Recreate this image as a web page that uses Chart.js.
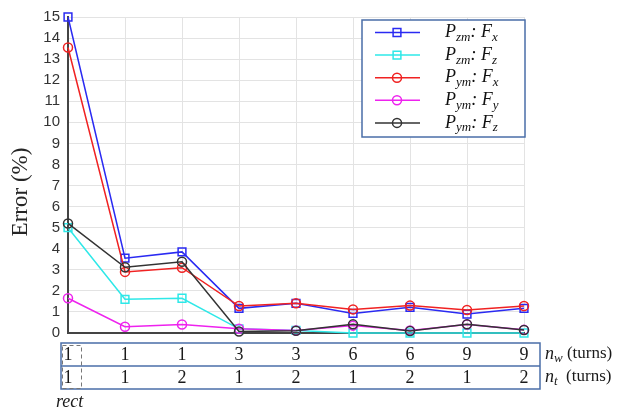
<!DOCTYPE html>
<html>
<head>
<meta charset="utf-8">
<script src="https://cdn.jsdelivr.net/npm/chart.js@4.4.1/dist/chart.umd.min.js"></script>
<style>
  html, body { margin: 0; padding: 0; background: #fff; }
  #wrap { position: relative; width: 627px; height: 411px; }
</style>
</head>
<body>
<div id="wrap"><canvas id="c"></canvas></div>
<script>
// Configurations along the x axis (winding turns n_w, turns per layer n_t)
const nwTurns = ['1', '1', '1', '3', '3', '6', '6', '9', '9'];
const ntTurns = ['1', '1', '2', '1', '2', '1', '2', '1', '2'];

// Error (%) for each force component / model
const pzmFx = [15.0, 3.55, 3.85, 1.17, 1.41, 0.93, 1.22, 0.90, 1.17];
const pzmFz = [5.0, 1.60, 1.65, 0.20, 0.12, 0.0, 0.0, 0.0, 0.0];
const pymFx = [13.55, 2.90, 3.10, 1.28, 1.41, 1.12, 1.30, 1.09, 1.28];
const pymFy = [1.65, 0.30, 0.40, 0.20, 0.12, 0.35, 0.12, 0.40, 0.15];
const pymFz = [5.2, 3.12, 3.38, 0.07, 0.11, 0.41, 0.09, 0.41, 0.14];

const seriesLabels = ['P_zm: F_x', 'P_zm: F_z', 'P_ym: F_x', 'P_ym: F_y', 'P_ym: F_z'];
const yTicks = [0, 1, 2, 3, 4, 5, 6, 7, 8, 9, 10, 11, 12, 13, 14, 15];

const BLUE = '#2a2af2', CYAN = '#2ee8e8', RED = '#f02222', MAG = '#ee22ee', DARK = '#333333';
const FRAME = '#4a6ea8';

function series(label, data, color, shape, radius, order) {
  return {
    label, data, order,
    borderColor: color, backgroundColor: 'rgba(0,0,0,0)',
    pointBorderColor: color, pointBackgroundColor: 'rgba(0,0,0,0)',
    pointStyle: shape, pointRadius: radius, pointHoverRadius: radius,
    pointBorderWidth: 1.5, borderWidth: 1.5, tension: 0, clip: false
  };
}

// draws "X_sub" style runs: italic base letters with subscripts
function drawRich(ctx, text, x, y, size) {
  const parts = text.split(/(_[a-z]+)/);
  let cx = x;
  ctx.textBaseline = 'middle';
  ctx.textAlign = 'left';
  for (const p of parts) {
    if (!p) continue;
    if (p[0] === '_') {
      ctx.font = 'italic ' + Math.round(size * 0.72) + 'px "Liberation Serif", serif';
      ctx.fillText(p.slice(1), cx, y + size * 0.28);
      cx += ctx.measureText(p.slice(1)).width;
    } else {
      ctx.font = 'italic ' + size + 'px "Liberation Serif", serif';
      ctx.fillText(p, cx, y);
      cx += ctx.measureText(p).width;
    }
  }
  return cx;
}

const legendPlugin = {
  id: 'boxLegend',
  afterDatasetsDraw(chart) {
    const ctx = chart.ctx;
    const x0 = 362, y0 = 20, w = 163, h = 117;
    ctx.save();
    ctx.fillStyle = '#fff';
    ctx.fillRect(x0, y0, w, h);
    ctx.strokeStyle = FRAME; ctx.lineWidth = 1.5;
    ctx.strokeRect(x0, y0, w, h);
    chart.data.datasets.forEach((ds, i) => {
      const y = 32.5 + i * 22.6;
      ctx.strokeStyle = ds.borderColor; ctx.lineWidth = 1.5;
      ctx.beginPath(); ctx.moveTo(375, y); ctx.lineTo(420, y); ctx.stroke();
      ctx.fillStyle = 'rgba(0,0,0,0)';
      Chart.helpers.drawPoint(ctx, { pointStyle: ds.pointStyle, radius: ds.pointRadius, borderWidth: 1.5, rotation: 0 }, 397, y);
      ctx.fillStyle = '#111';
      drawRich(ctx, ds.label, 445, y, 18);
    });
    ctx.restore();
  }
};

const tablePlugin = {
  id: 'turnTable',
  afterDraw(chart) {
    const ctx = chart.ctx;
    const xs = chart.scales.x;
    ctx.save();
    // frame of the two-row table
    ctx.strokeStyle = FRAME; ctx.lineWidth = 1.5;
    ctx.strokeRect(61, 343, 479, 46);
    ctx.beginPath(); ctx.moveTo(61, 366); ctx.lineTo(540, 366); ctx.stroke();
    // dashed marker around the rectangular reference column
    ctx.strokeStyle = '#777'; ctx.lineWidth = 1; ctx.setLineDash([4, 3]);
    ctx.strokeRect(62.5, 345.5, 19, 43);
    ctx.setLineDash([]);
    ctx.fillStyle = '#1a1a1a';
    ctx.font = '18px "Liberation Serif", serif';
    ctx.textAlign = 'center'; ctx.textBaseline = 'middle';
    nwTurns.forEach((v, i) => ctx.fillText(v, xs.getPixelForValue(i), 355));
    ntTurns.forEach((v, i) => ctx.fillText(v, xs.getPixelForValue(i), 378));
    // row captions
    let e = drawRich(ctx, 'n_w', 545, 354, 18);
    ctx.font = '17px "Liberation Serif", serif';
    ctx.fillText(' (turns)', e, 354);
    e = drawRich(ctx, 'n_t', 545, 377, 18);
    ctx.font = '17px "Liberation Serif", serif';
    ctx.fillText('  (turns)', e, 377);
    ctx.font = 'italic 18px "Liberation Serif", serif';
    ctx.textAlign = 'left';
    ctx.fillText('rect', 56, 402);
    // y-axis caption
    ctx.translate(21, 192);
    ctx.rotate(-Math.PI / 2);
    ctx.textAlign = 'center';
    ctx.font = '23px "Liberation Serif", serif';
    ctx.fillStyle = '#262626';
    ctx.fillText('Error (%)', 0, 0);
    ctx.restore();
  }
};

new Chart(document.getElementById('c'), {
  type: 'line',
  data: {
    labels: nwTurns.map((_, i) => i),
    datasets: [
      series(seriesLabels[0], pzmFx, BLUE, 'rect', 5.5, 5),
      series(seriesLabels[1], pzmFz, CYAN, 'rect', 5.5, 4),
      series(seriesLabels[2], pymFx, RED, 'circle', 4.5, 3),
      series(seriesLabels[3], pymFy, MAG, 'circle', 4.5, 2),
      series(seriesLabels[4], pymFz, DARK, 'circle', 4.5, 1)
    ]
  },
  options: {
    responsive: true, maintainAspectRatio: false, animation: false,
    layout: { padding: { left: 0, right: 103, top: 16, bottom: 78 } },
    plugins: { legend: { display: false }, tooltip: { enabled: false } },
    scales: {
      x: {
        type: 'category', offset: false,
        ticks: { display: false },
        grid: { color: '#e3e3e3', lineWidth: 1, drawTicks: false },
        border: { color: '#444', width: 2 },
        afterFit(s) { s.height = 0; }
      },
      y: {
        min: 0, max: 15,
        afterBuildTicks(s) { s.ticks = yTicks.map(v => ({ value: v })); },
        ticks: { color: '#333', font: { family: 'Liberation Sans, Arial', size: 15 }, padding: 8 },
        grid: { color: '#e3e3e3', lineWidth: 1, drawTicks: false },
        border: { color: '#444', width: 2 },
        afterFit(s) { s.width = 68; }
      }
    }
  },
  plugins: [legendPlugin, tablePlugin]
});
</script>
</body>
</html>
